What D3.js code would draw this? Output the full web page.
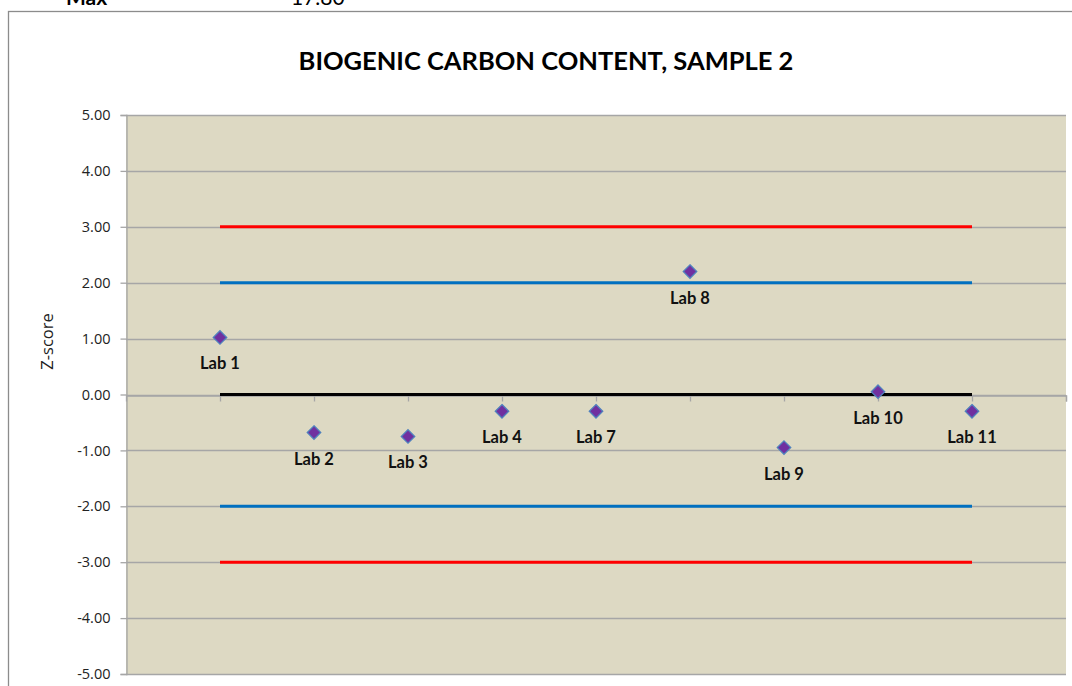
<!DOCTYPE html>
<html>
<head>
<meta charset="utf-8">
<script src="https://cdn.jsdelivr.net/npm/d3@7"></script>
<style>
  body { margin: 0; background: #fff; }
  svg { display: block; font-family: Lato, "Open Sans", sans-serif; }
</style>
</head>
<body>
<div id="chart"></div>
<script>
// lab z-scores
const labs = ['Lab 1', 'Lab 2', 'Lab 3', 'Lab 4', 'Lab 7', 'Lab 8', 'Lab 9', 'Lab 10', 'Lab 11'];
const labX = [1, 2, 3, 4, 5, 6, 7, 8, 9];
const zScores = [1.02, -0.68, -0.75, -0.30, -0.30, 2.20, -0.95, 0.05, -0.30];

// limit lines (z = ±2 warning, ±3 action, 0 centre)
const limitValues = [3, 2, 0, -2, -3];
const limitColors = ['#ff0000', '#0070c0', '#000000', '#0070c0', '#ff0000'];

const yTicks = [5, 4, 3, 2, 1, 0, -1, -2, -3, -4, -5];
const xTicks = [1, 2, 3, 4, 5, 6, 7, 8, 9, 10];

const width = 1072, height = 686;
const plot = { left: 126, right: 1066, top: 115, bottom: 674 };

const svg = d3.select('#chart').append('svg')
  .attr('width', width)
  .attr('height', height);

// text of the sheet above the chart, mostly cut off
svg.append('text').attr('x', 66).attr('y', 5)
  .attr('font-size', 21).attr('font-weight', 'bold').attr('fill', '#000')
  .text('Max');
svg.append('text').attr('x', 291).attr('y', 5)
  .attr('font-size', 21).attr('fill', '#000')
  .text('17.80');

// chart border
svg.append('rect')
  .attr('x', 8.5).attr('y', 11.5)
  .attr('width', 1080).attr('height', 700)
  .attr('fill', '#fff')
  .attr('stroke', '#8c8c8c')
  .attr('stroke-width', 1.3);

const x = d3.scaleLinear().domain([0, 10]).range([plot.left, plot.right]);
const y = d3.scaleLinear().domain([-5, 5]).range([plot.bottom, plot.top]);

svg.append('rect')
  .attr('x', plot.left).attr('y', plot.top)
  .attr('width', plot.right - plot.left).attr('height', plot.bottom - plot.top)
  .attr('fill', '#ddd9c3');

// gridlines
svg.append('g').selectAll('line')
  .data(yTicks)
  .join('line')
  .attr('x1', plot.left).attr('x2', plot.right)
  .attr('y1', d => Math.round(y(d)) + 0.5).attr('y2', d => Math.round(y(d)) + 0.5)
  .attr('stroke', '#a6a6a6')
  .attr('stroke-width', 1.3);

// y axis
const yAxis = svg.append('g')
  .attr('transform', `translate(${plot.left + 0.5},0)`)
  .call(d3.axisLeft(y).tickValues(yTicks).tickSizeOuter(0).tickSize(6));
yAxis.attr('font-size', null).attr('font-family', null);
yAxis.select('.domain').attr('stroke', '#a6a6a6').attr('stroke-width', 1.3);
yAxis.selectAll('.tick line').attr('stroke', '#a6a6a6').attr('stroke-width', 1.3);
yAxis.selectAll('.tick text')
  .attr('x', -16)
  .style('font-family', '"Open Sans", sans-serif')
  .style('font-size', '14.5px')
  .attr('fill', '#222')
  .text(d => d3.format('.2f')(d).replace('−', '-'));

svg.append('text')
  .attr('transform', `translate(53,${(plot.top + plot.bottom) / 2 - 53}) rotate(-90)`)
  .attr('text-anchor', 'middle')
  .attr('font-family', '"Open Sans", sans-serif')
  .attr('font-size', 16.5).attr('fill', '#222')
  .text('Z-score');

// x axis crossing at zero
const xAxis = svg.append('g')
  .attr('transform', `translate(0,${Math.round(y(0)) + 0.5})`)
  .call(d3.axisBottom(x).tickValues(xTicks).tickFormat('').tickSizeOuter(0).tickSize(6));
xAxis.select('.domain').attr('stroke', '#a6a6a6').attr('stroke-width', 1.3);
xAxis.selectAll('.tick line').attr('stroke', '#a6a6a6').attr('stroke-width', 1.3);

// limit lines
svg.append('g').selectAll('line')
  .data(limitValues)
  .join('line')
  .attr('x1', x(labX[0])).attr('x2', x(labX[labX.length - 1]))
  .attr('y1', d => y(d)).attr('y2', d => y(d))
  .attr('stroke', (d, i) => limitColors[i])
  .attr('stroke-width', 3);

// diamonds
const pts = labs.map((l, i) => ({ label: l, x: labX[i], z: zScores[i] }));
svg.append('g').selectAll('path')
  .data(pts)
  .join('path')
  .attr('transform', d => `translate(${x(d.x)},${y(d.z)})`)
  .attr('d', d3.symbol(d3.symbolDiamond2, 115))
  .attr('fill', '#7030a0')
  .attr('stroke', '#4f81bd')
  .attr('stroke-width', 1.3);

svg.append('g').selectAll('text')
  .data(pts)
  .join('text')
  .attr('x', d => x(d.x))
  .attr('y', d => y(d.z) + 32)
  .attr('text-anchor', 'middle')
  .attr('font-size', 16.5).attr('font-weight', 'bold').attr('fill', '#111')
  .text(d => d.label);

// title
svg.append('text')
  .attr('x', 546).attr('y', 70)
  .attr('text-anchor', 'middle')
  .attr('font-size', 25.5).attr('font-weight', 'bold').attr('fill', '#000')
  .text('BIOGENIC CARBON CONTENT, SAMPLE 2');
</script>
</body>
</html>
